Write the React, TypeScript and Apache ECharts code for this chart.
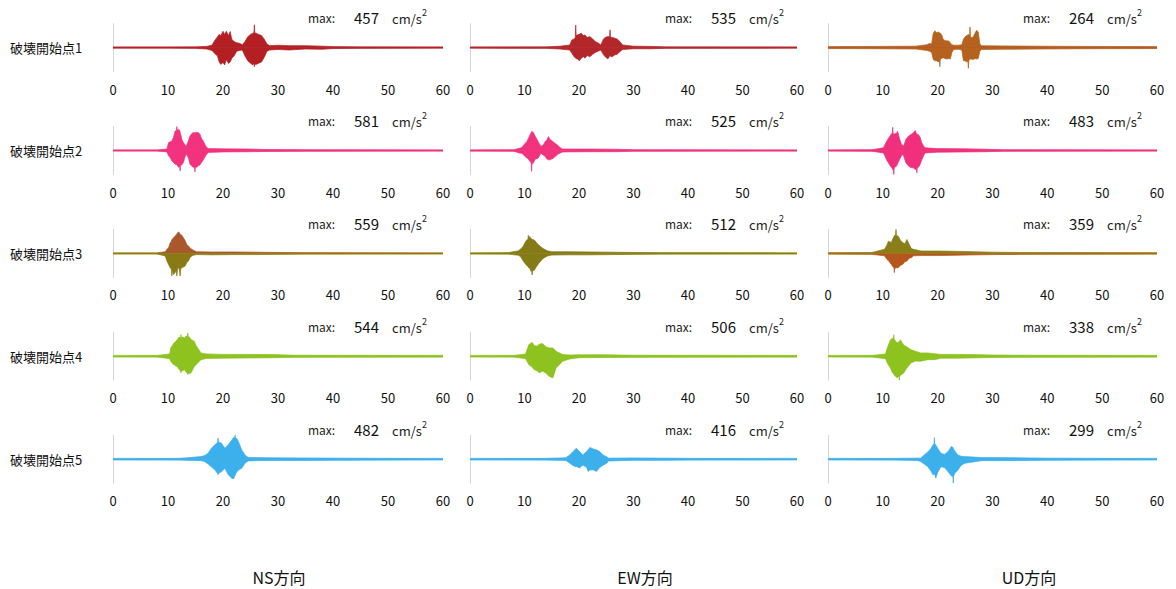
import React, { useEffect, useRef } from "react";
import * as echarts from "echarts";

// [time (s), upper envelope, lower envelope] – amplitudes normalised to each panel's own max
type P = [number, number, number];

const ROW_LABELS = ["破壊開始点1", "破壊開始点2", "破壊開始点3", "破壊開始点4", "破壊開始点5"];
const COL_LABELS = ["NS方向", "EW方向", "UD方向"];
const X_MIN = 0;
const X_MAX = 60;
const X_STEP = 10;
const MAX_NS = [457, 581, 559, 544, 482];
const MAX_EW = [535, 525, 512, 506, 416];
const MAX_UD = [264, 483, 359, 338, 299];

const ns1: P[] = [
  [0, 0.02, -0.02], [10, 0.02, -0.02], [15, 0.03, -0.03], [17, 0.05, -0.06], [18, 0.1, -0.12],
  [18.5, 0.3, -0.25], [19, 0.45, -0.35], [19.3, 0.55, -0.6], [19.6, 0.5, -0.7], [20, 0.68, -0.62],
  [20.3, 0.55, -0.72], [20.6, 0.68, -0.5], [21, 0.5, -0.66], [21.3, 0.67, -0.6], [21.6, 0.35, -0.45],
  [22, 0.25, -0.35], [22.5, 0.2, -0.15], [23, 0.18, -0.12], [23.5, 0.12, -0.1], [24, 0.25, -0.35],
  [24.5, 0.45, -0.55], [25, 0.55, -0.65], [25.4, 0.6, -0.72], [25.62, 0.62, -0.66], [25.7, 0.95, -0.8],
  [25.78, 0.62, -0.68], [26, 0.6, -0.7], [26.5, 0.55, -0.65], [27, 0.5, -0.6], [27.5, 0.35, -0.4],
  [28, 0.15, -0.15], [28.5, 0.08, -0.1], [30, 0.1, -0.08], [32, 0.08, -0.1], [35, 0.08, -0.06],
  [38, 0.06, -0.07], [40, 0.04, -0.04], [45, 0.03, -0.03], [60, 0.02, -0.02],
];
const ew1: P[] = [
  [0, 0.02, -0.02], [14, 0.03, -0.03], [16.5, 0.06, -0.06], [18.3, 0.11, -0.1], [18.7, 0.32, -0.24],
  [19.1, 0.36, -0.38], [19.32, 0.42, -0.42], [19.4, 0.94, -0.44], [19.48, 0.5, -0.46], [19.7, 0.53, -0.47],
  [20.1, 0.56, -0.55], [20.4, 0.6, -0.44], [20.8, 0.5, -0.38], [21.1, 0.53, -0.44], [21.5, 0.42, -0.33],
  [22, 0.46, -0.38], [22.5, 0.36, -0.28], [23, 0.25, -0.2], [23.6, 0.18, -0.14], [24, 0.11, -0.1],
  [24.5, 0.36, -0.3], [24.8, 0.42, -0.38], [25.3, 0.46, -0.47], [25.62, 0.45, -0.36], [25.7, 0.74, -0.33],
  [25.78, 0.44, -0.36], [26.1, 0.42, -0.38], [26.6, 0.39, -0.3], [27, 0.36, -0.28], [27.5, 0.25, -0.17],
  [28, 0.11, -0.08], [30, 0.06, -0.05], [33, 0.05, -0.05], [36, 0.03, -0.03], [60, 0.02, -0.02],
];
const ud1: P[] = [
  [0, 0.04, -0.04], [10, 0.05, -0.05], [16, 0.06, -0.06], [18, 0.12, -0.12], [18.5, 0.17, -0.15],
  [18.9, 0.15, -0.2], [19.2, 0.6, -0.5], [19.5, 0.7, -0.55], [19.8, 0.62, -0.55], [20.1, 0.65, -0.6],
  [20.32, 0.62, -0.55], [20.4, 0.62, -0.8], [20.48, 0.6, -0.5], [20.7, 0.55, -0.45], [21, 0.35, -0.42],
  [21.3, 0.3, -0.45], [21.7, 0.28, -0.48], [22, 0.28, -0.45], [22.3, 0.2, -0.48], [22.6, 0.12, -0.2],
  [22.9, 0.1, -0.08], [23.8, 0.1, -0.07], [24.4, 0.12, -0.1], [24.7, 0.35, -0.55], [25, 0.45, -0.55],
  [25.3, 0.5, -0.6], [25.52, 0.52, -0.58], [25.6, 0.55, -0.86], [25.68, 0.55, -0.55], [25.82, 0.5, -0.5],
  [25.9, 0.86, -0.5], [25.98, 0.45, -0.48], [26.2, 0.42, -0.48], [26.5, 0.45, -0.5], [26.8, 0.6, -0.45],
  [27.1, 0.72, -0.48], [27.4, 0.65, -0.45], [27.7, 0.15, -0.15], [28, 0.08, -0.08], [32, 0.07, -0.07],
  [38, 0.06, -0.06], [45, 0.05, -0.05], [60, 0.04, -0.04],
];

const ns2: P[] = [
  [0, 0.02, -0.02], [8, 0.02, -0.02], [9.8, 0.06, -0.06], [10.1, 0.33, -0.22], [10.4, 0.36, -0.3],
  [10.7, 0.4, -0.43], [11, 0.55, -0.5], [11.3, 0.82, -0.57], [11.52, 0.8, -0.58], [11.6, 1.0, -0.6],
  [11.68, 0.85, -0.62], [11.9, 0.89, -0.7], [12.12, 0.84, -0.66], [12.2, 0.82, -0.85], [12.28, 0.7, -0.62],
  [12.5, 0.47, -0.6], [12.8, 0.33, -0.5], [13.05, 0.25, -0.3], [13.3, 0.17, -0.15], [13.7, 0.4, -0.3],
  [14, 0.6, -0.57], [14.3, 0.7, -0.65], [14.6, 0.75, -0.7], [14.82, 0.74, -0.7], [14.9, 0.72, -0.89],
  [14.98, 0.74, -0.7], [15.2, 0.76, -0.7], [15.5, 0.75, -0.64], [15.8, 0.68, -0.6], [16.1, 0.5, -0.5],
  [16.4, 0.4, -0.4], [16.9, 0.17, -0.2], [17.3, 0.08, -0.08], [20, 0.07, -0.06], [25, 0.06, -0.05],
  [28, 0.04, -0.04], [35, 0.03, -0.03], [60, 0.02, -0.02],
];
const ew2: P[] = [
  [0, 0.02, -0.02], [8, 0.03, -0.03], [9.2, 0.1, -0.11], [9.5, 0.12, -0.11], [10.1, 0.3, -0.25],
  [10.4, 0.35, -0.3], [10.7, 0.5, -0.35], [11, 0.65, -0.46], [11.22, 0.74, -0.5], [11.3, 0.79, -0.87],
  [11.38, 0.78, -0.55], [11.6, 0.76, -0.53], [12, 0.58, -0.35], [12.5, 0.38, -0.32], [13, 0.17, -0.11],
  [13.5, 0.24, -0.2], [13.8, 0.38, -0.25], [14.1, 0.44, -0.35], [14.4, 0.58, -0.39], [14.7, 0.45, -0.39],
  [15, 0.42, -0.35], [15.3, 0.35, -0.32], [15.6, 0.3, -0.25], [16.2, 0.2, -0.15], [16.5, 0.12, -0.11],
  [17, 0.06, -0.06], [22, 0.06, -0.05], [27, 0.05, -0.05], [30, 0.03, -0.03], [60, 0.02, -0.02],
];
const ud2: P[] = [
  [0, 0.02, -0.02], [8, 0.03, -0.03], [10.1, 0.11, -0.1], [10.4, 0.25, -0.24], [10.7, 0.39, -0.4],
  [11, 0.5, -0.51], [11.3, 0.6, -0.62], [11.6, 0.7, -0.72], [11.72, 0.72, -0.75], [11.8, 0.97, -0.8],
  [11.88, 0.7, -0.78], [11.92, 0.7, -0.75], [12, 0.7, -1.0], [12.08, 0.69, -0.72], [12.2, 0.69, -0.7],
  [12.5, 0.72, -0.65], [12.7, 0.8, -0.55], [13, 0.53, -0.4], [13.4, 0.25, -0.22], [13.7, 0.2, -0.17],
  [13.9, 0.25, -0.3], [14.2, 0.46, -0.51], [14.7, 0.6, -0.65], [15, 0.65, -0.7], [15.3, 0.69, -0.72],
  [15.6, 0.75, -0.72], [15.9, 0.83, -0.8], [16.12, 0.72, -0.75], [16.2, 0.69, -0.93], [16.28, 0.68, -0.72],
  [16.5, 0.66, -0.7], [16.8, 0.55, -0.58], [17.1, 0.32, -0.4], [17.4, 0.2, -0.24], [17.7, 0.11, -0.1],
  [20, 0.08, -0.07], [25, 0.07, -0.06], [29, 0.05, -0.05], [32, 0.03, -0.03], [60, 0.02, -0.02],
];

const ns3: P[] = [
  [0, 0.02, -0.02], [8, 0.02, -0.02], [9.5, 0.07, -0.11], [9.8, 0.17, -0.32], [10.1, 0.24, -0.46],
  [10.4, 0.44, -0.6], [10.6, 0.5, -0.65], [10.7, 0.58, -0.94], [10.85, 0.6, -0.7], [11, 0.65, -0.88],
  [11.3, 0.72, -0.8], [11.5, 0.78, -0.7], [11.6, 0.82, -0.94], [11.75, 0.85, -0.65], [11.9, 0.9, -0.6],
  [12.05, 0.85, -0.65], [12.2, 0.82, -0.94], [12.35, 0.78, -0.62], [12.5, 0.76, -0.6], [12.8, 0.65, -0.57],
  [13.1, 0.54, -0.53], [13.4, 0.38, -0.39], [13.7, 0.31, -0.32], [14, 0.24, -0.18], [14.3, 0.17, -0.11],
  [14.6, 0.13, -0.08], [15.2, 0.07, -0.05], [18, 0.06, -0.06], [22, 0.06, -0.05], [26, 0.05, -0.05],
  [30, 0.04, -0.04], [35, 0.03, -0.03], [60, 0.02, -0.02],
];
const ew3: P[] = [
  [0, 0.02, -0.02], [7, 0.03, -0.03], [8.9, 0.11, -0.08], [9.3, 0.18, -0.14], [9.7, 0.28, -0.3],
  [10.1, 0.45, -0.42], [10.4, 0.56, -0.5], [10.62, 0.58, -0.55], [10.7, 0.76, -0.58], [10.78, 0.65, -0.6],
  [10.95, 0.7, -0.62], [11.2, 0.62, -0.75], [11.32, 0.6, -0.72], [11.4, 0.6, -0.9], [11.48, 0.58, -0.72],
  [11.8, 0.56, -0.7], [12.2, 0.45, -0.55], [12.6, 0.35, -0.42], [13.4, 0.2, -0.21], [14.2, 0.11, -0.11],
  [15, 0.07, -0.07], [18, 0.07, -0.06], [22, 0.06, -0.06], [26, 0.05, -0.05], [30, 0.04, -0.04],
  [35, 0.03, -0.03], [60, 0.02, -0.02],
];
const ud3: P[] = [
  [0, 0.03, -0.03], [8, 0.04, -0.04], [10.3, 0.17, -0.1], [10.75, 0.35, -0.25], [11, 0.51, -0.3],
  [11.55, 0.45, -0.46], [11.8, 0.6, -0.55], [12.02, 0.7, -0.6], [12.1, 0.75, -0.8], [12.18, 0.72, -0.6],
  [12.32, 0.78, -0.62], [12.4, 1.0, -0.6], [12.48, 0.75, -0.6], [12.8, 0.72, -0.6], [13.2, 0.55, -0.5],
  [13.6, 0.45, -0.46], [14, 0.4, -0.35], [14.4, 0.58, -0.32], [14.8, 0.38, -0.2], [15.2, 0.2, -0.18],
  [15.6, 0.17, -0.1], [17, 0.1, -0.09], [20, 0.1, -0.09], [23, 0.09, -0.08], [25, 0.08, -0.07],
  [30, 0.05, -0.05], [35, 0.04, -0.04], [60, 0.03, -0.03],
];

const ns4: P[] = [
  [0, 0.02, -0.02], [8, 0.03, -0.03], [10.3, 0.1, -0.1], [10.5, 0.35, -0.21], [10.8, 0.45, -0.3],
  [11.1, 0.56, -0.35], [11.4, 0.62, -0.4], [11.7, 0.7, -0.42], [12, 0.8, -0.55], [12.27, 0.75, -0.6],
  [12.35, 0.9, -0.69], [12.43, 0.78, -0.62], [12.7, 0.8, -0.6], [13, 0.76, -0.55], [13.3, 0.85, -0.66],
  [13.52, 0.82, -0.7], [13.6, 0.97, -0.76], [13.68, 0.82, -0.72], [13.9, 0.8, -0.72], [14.2, 0.7, -0.69],
  [14.5, 0.66, -0.55], [14.8, 0.62, -0.42], [15.1, 0.45, -0.35], [15.4, 0.35, -0.28], [16, 0.14, -0.14],
  [17, 0.1, -0.09], [20, 0.08, -0.08], [24, 0.08, -0.07], [29, 0.07, -0.06], [33, 0.04, -0.04],
  [60, 0.03, -0.03],
];
const ew4: P[] = [
  [0, 0.02, -0.02], [8, 0.03, -0.03], [10.2, 0.1, -0.1], [10.8, 0.49, -0.35], [11.4, 0.58, -0.45],
  [11.8, 0.45, -0.56], [12.3, 0.42, -0.6], [12.7, 0.5, -0.69], [13.3, 0.53, -0.62], [13.9, 0.4, -0.7],
  [14.5, 0.35, -0.83], [15.2, 0.35, -0.9], [15.8, 0.21, -0.49], [17, 0.07, -0.21], [18.3, 0.05, -0.11],
  [20, 0.06, -0.06], [25, 0.06, -0.05], [30, 0.04, -0.04], [60, 0.03, -0.03],
];
const ud4: P[] = [
  [0, 0.02, -0.02], [8, 0.03, -0.03], [10.5, 0.1, -0.1], [10.8, 0.35, -0.28], [11.4, 0.69, -0.5],
  [11.75, 0.75, -0.69], [11.92, 0.75, -0.72], [12, 0.9, -0.75], [12.08, 0.7, -0.78], [12.6, 0.56, -0.9],
  [12.92, 0.6, -0.82], [13, 0.62, -1.0], [13.08, 0.64, -0.82], [13.2, 0.69, -0.8], [13.85, 0.45, -0.69],
  [14.2, 0.42, -0.55], [15.1, 0.28, -0.28], [15.95, 0.21, -0.2], [16.9, 0.14, -0.21], [18.2, 0.14, -0.14],
  [19.4, 0.11, -0.14], [20.6, 0.08, -0.08], [23, 0.08, -0.08], [26, 0.07, -0.07], [30, 0.05, -0.05],
  [35, 0.04, -0.04], [60, 0.03, -0.03],
];

const ns5: P[] = [
  [0, 0.02, -0.02], [12, 0.03, -0.03], [16, 0.11, -0.06], [16.65, 0.15, -0.1], [17.3, 0.25, -0.2],
  [17.9, 0.46, -0.32], [18.5, 0.6, -0.44], [19.02, 0.7, -0.6], [19.1, 0.88, -0.65], [19.18, 0.72, -0.6],
  [19.7, 0.67, -0.52], [20.35, 0.46, -0.38], [20.95, 0.6, -0.65], [21.6, 0.8, -0.79], [21.9, 0.9, -0.82],
  [22.12, 0.88, -0.72], [22.2, 1.0, -0.7], [22.28, 0.88, -0.62], [22.55, 0.85, -0.52], [22.8, 0.74, -0.45],
  [23.4, 0.39, -0.38], [24, 0.18, -0.17], [24.6, 0.07, -0.07], [28, 0.06, -0.05], [34, 0.05, -0.05],
  [41, 0.04, -0.04], [60, 0.02, -0.02],
];
const ew5: P[] = [
  [0, 0.02, -0.02], [14, 0.03, -0.03], [17.6, 0.06, -0.05], [18.3, 0.18, -0.17], [18.9, 0.32, -0.26],
  [19.3, 0.4, -0.31], [19.5, 0.46, -0.3], [20.1, 0.32, -0.37], [20.7, 0.18, -0.24], [21.4, 0.32, -0.35],
  [21.7, 0.4, -0.51], [22, 0.49, -0.45], [22.6, 0.43, -0.44], [23.2, 0.39, -0.51], [23.8, 0.32, -0.35],
  [24.4, 0.18, -0.25], [25.1, 0.1, -0.17], [25.4, 0.04, -0.08], [30, 0.05, -0.04], [36, 0.04, -0.04],
  [40, 0.03, -0.03], [60, 0.02, -0.02],
];
const ud5: P[] = [
  [0, 0.02, -0.02], [12, 0.03, -0.03], [16.3, 0.04, -0.05], [16.9, 0.04, -0.1], [17.55, 0.18, -0.2],
  [18.2, 0.3, -0.31], [18.8, 0.46, -0.5], [19.15, 0.6, -0.65], [19.32, 0.62, -0.62], [19.4, 0.9, -0.6],
  [19.48, 0.62, -0.65], [19.65, 0.6, -0.79], [20, 0.46, -0.55], [20.6, 0.25, -0.31], [21.25, 0.2, -0.35],
  [21.9, 0.32, -0.52], [22.5, 0.53, -0.7], [22.77, 0.5, -0.72], [22.85, 0.45, -1.0], [22.93, 0.42, -0.7],
  [23.1, 0.35, -0.6], [23.7, 0.18, -0.45], [24.3, 0.12, -0.25], [24.95, 0.11, -0.17], [28, 0.07, -0.06],
  [34, 0.06, -0.06], [40, 0.04, -0.04], [60, 0.02, -0.02],
];

const WAVES: P[][][] = [
  [ns1, ew1, ud1],
  [ns2, ew2, ud2],
  [ns3, ew3, ud3],
  [ns4, ew4, ud4],
  [ns5, ew5, ud5],
];

// ---- styles / layout (not data) ----
const UPPER_COLORS = [
  ["#b41f24", "#b3262a", "#b5621e"],
  ["#f2327e", "#f2327e", "#f0307c"],
  ["#a8582a", "#857a18", "#8a7e18"],
  ["#8dc21f", "#8dc21f", "#8dc21f"],
  ["#3cb0ec", "#3cb0ec", "#3cb0ec"],
];
const LOWER_COLORS = [
  ["#b41f24", "#b3262a", "#b5621e"],
  ["#f2327e", "#f2327e", "#f0307c"],
  ["#8a7a14", "#857a18", "#b5561c"],
  ["#8dc21f", "#8dc21f", "#8dc21f"],
  ["#3cb0ec", "#3cb0ec", "#3cb0ec"],
];
const BASE_DARK = ["#a8343c", "#e8447f", "#9c9428", "#86b832", "#4f94b8"];
const BASE_LIGHT = [
  "rgba(235,160,170,0.7)",
  "rgba(250,170,200,0.7)",
  "rgba(225,225,120,0.7)",
  "rgba(200,235,140,0.7)",
  "rgba(160,225,245,0.8)",
];
const COL_LEFT = [113, 470, 828];
const COL_WIDTH = [330, 327, 329];
const BASE_Y0 = 47.6;
const ROW_GAP = 102.9;
const HALF_H = 24;
const BOTTOM_LABEL_X = [279, 645, 1029];
const FONT = "'Noto Sans CJK JP', 'Noto Sans', sans-serif";

export default function App() {
  const ref = useRef<HTMLDivElement>(null);

  useEffect(() => {
    if (!ref.current) return;
    const chart = echarts.init(ref.current, undefined, { renderer: "svg" });

    const grids: any[] = [];
    const xAxes: any[] = [];
    const yAxes: any[] = [];
    const series: any[] = [];
    const graphics: any[] = [];
    const maxCols = [MAX_NS, MAX_EW, MAX_UD];

    for (let r = 0; r < 5; r++) {
      const base = BASE_Y0 + r * ROW_GAP;
      graphics.push({
        type: "text",
        x: 10,
        y: base,
        style: {
          text: ROW_LABELS[r],
          fontSize: 13,
          fontFamily: FONT,
          fill: "#111",
          align: "left",
          verticalAlign: "middle",
        },
      });
      for (let c = 0; c < 3; c++) {
        const i = r * 3 + c;
        const left = COL_LEFT[c];
        grids.push({ left, top: base - HALF_H, width: COL_WIDTH[c], height: HALF_H * 2 });
        xAxes.push({
          gridIndex: i,
          type: "value",
          min: X_MIN,
          max: X_MAX,
          interval: X_STEP,
          axisLine: { show: false },
          axisTick: { show: false },
          splitLine: { show: false },
          axisLabel: { margin: 11, fontSize: 13, color: "#111", fontFamily: FONT },
        });
        yAxes.push({
          gridIndex: i,
          type: "value",
          min: -1,
          max: 1,
          axisLine: { show: true, onZero: false, lineStyle: { color: "#d6d6d6", width: 1 } },
          axisTick: { show: false },
          axisLabel: { show: false },
          splitLine: { show: false },
        });
        const wave = WAVES[r][c];
        series.push({
          type: "line",
          xAxisIndex: i,
          yAxisIndex: i,
          data: [[X_MIN, 0], [X_MAX, 0]],
          symbol: "none",
          silent: true,
          lineStyle: { color: BASE_LIGHT[r], width: 3 },
          z: 1,
        });
        series.push({
          type: "line",
          xAxisIndex: i,
          yAxisIndex: i,
          data: [[X_MIN, 0], [X_MAX, 0]],
          symbol: "none",
          silent: true,
          lineStyle: { color: BASE_DARK[r], width: 1 },
          z: 2,
        });
        series.push({
          type: "line",
          xAxisIndex: i,
          yAxisIndex: i,
          data: wave.map((p) => [p[0], p[1]]),
          symbol: "none",
          silent: true,
          lineStyle: { color: UPPER_COLORS[r][c], width: 0.7 },
          areaStyle: { color: UPPER_COLORS[r][c], opacity: 1 },
          z: 3,
        });
        series.push({
          type: "line",
          xAxisIndex: i,
          yAxisIndex: i,
          data: wave.map((p) => [p[0], p[2]]),
          symbol: "none",
          silent: true,
          lineStyle: { color: LOWER_COLORS[r][c], width: 0.7 },
          areaStyle: { color: LOWER_COLORS[r][c], opacity: 1 },
          z: 3,
        });

        const ty = base - 30;
        graphics.push(
          {
            type: "text",
            x: left + 195,
            y: ty,
            style: { text: "max:", fontSize: 12, fontFamily: FONT, fill: "#222", align: "left", verticalAlign: "middle" },
          },
          {
            type: "text",
            x: left + 241,
            y: ty,
            style: {
              text: String(maxCols[c][r]),
              fontSize: 15,
              fontFamily: FONT,
              fill: "#111",
              align: "left",
              verticalAlign: "middle",
            },
          },
          {
            type: "text",
            x: left + 279,
            y: ty + 1,
            style: { text: "cm/s", fontSize: 13, fontFamily: FONT, fill: "#222", align: "left", verticalAlign: "middle" },
          },
          {
            type: "text",
            x: left + 309,
            y: ty - 5,
            style: { text: "2", fontSize: 9, fontFamily: FONT, fill: "#222", align: "left", verticalAlign: "middle" },
          }
        );
      }
    }

    for (let c = 0; c < 3; c++) {
      graphics.push({
        type: "text",
        x: BOTTOM_LABEL_X[c],
        y: 577,
        style: {
          text: COL_LABELS[c],
          fontSize: 16,
          fontFamily: FONT,
          fill: "#111",
          align: "center",
          verticalAlign: "middle",
        },
      });
    }

    chart.setOption({
      animation: false,
      backgroundColor: "#ffffff",
      grid: grids,
      xAxis: xAxes,
      yAxis: yAxes,
      series,
      graphic: graphics,
    });

    return () => chart.dispose();
  }, []);

  return (
    <div
      ref={ref}
      style={{ position: "absolute", left: 0, top: 0, width: 1176, height: 589, background: "#fff" }}
    />
  );
}
